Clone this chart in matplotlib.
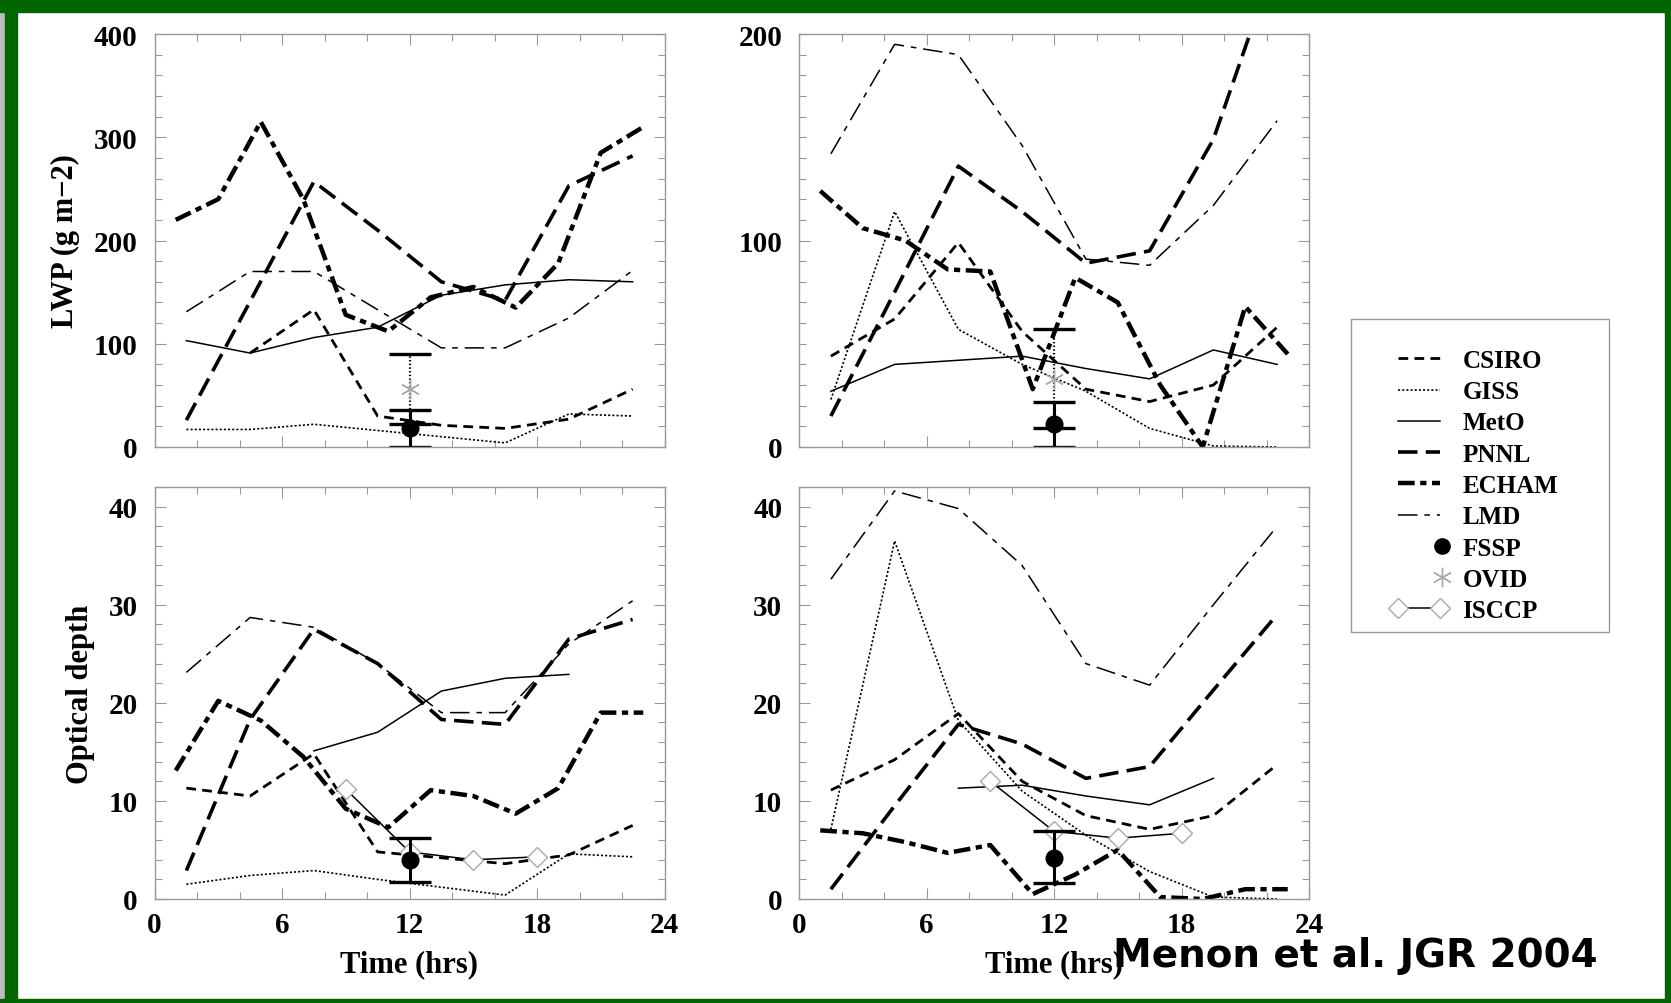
import numpy as np
import matplotlib
matplotlib.use("Agg")
import matplotlib.pyplot as plt
from matplotlib.lines import Line2D
from matplotlib.patches import Rectangle
from matplotlib.ticker import MultipleLocator
from matplotlib.legend_handler import HandlerLine2D

plt.rcParams['font.family'] = 'Liberation Serif'
plt.rcParams['font.weight'] = 'bold'
plt.rcParams['axes.labelweight'] = 'bold'
plt.rcParams['lines.scale_dashes'] = False

nan = np.nan

# model output times (3-hourly, ECHAM 2-hourly) and ISCCP overpasses
t3 = [1.5, 4.5, 7.5, 10.5, 13.5, 16.5, 19.5, 22.5]
t_echam = [1, 3, 5, 7, 9, 11, 13, 15, 17, 19, 21, 23]
t_isccp = [9, 12, 15, 18]
t_obs = 12

# LWP (g m-2), left case
lwp1_csiro = [nan, 91, 133, 30, 21, 18, 27, 56]
lwp1_giss = [17, 17, 22, 16, 10, 4, 32, 30]
lwp1_meto = [103, 91, 106, 116, 147, 157, 162, 160]
lwp1_pnnl = [26, 141, 257, 210, 160, 142, 253, 282]
lwp1_echam = [220, 240, 315, 240, 128, 112, 145, 155, 135, 178, 285, 310]
lwp1_lmd = [131, 170, 170, 133, 96, 96, 125, 171]

# LWP (g m-2), right case
lwp2_csiro = [44, 62, 99, 56, 28, 22, 30, 58]
lwp2_giss = [23, 114, 57, 40, 27, 9, 0.5, 0]
lwp2_meto = [27, 40, 42, 44, 38, 33, 47, 40]
lwp2_pnnl = [15, 75, 136, 114, 89, 95, 149, 238]
lwp2_echam = [124, 106, 100, 86, 85, 28, 82, 70, 30, 0, 68, 45]
lwp2_lmd = [142, 195, 190, 146, 91, 88, 117, 158]

# optical depth, left case
tau1_csiro = [11.3, 10.5, 14.8, 4.8, 4.2, 3.6, 4.5, 7.5]
tau1_giss = [1.5, 2.4, 2.9, 2.0, 1.2, 0.4, 4.6, 4.3]
tau1_meto = [nan, nan, 15.1, 17.0, 21.2, 22.5, 22.9, nan]
tau1_pnnl = [2.9, 18.3, 27.5, 24.0, 18.3, 17.8, 26.5, 28.5]
tau1_echam = [13.1, 20.2, 18.2, 14.5, 9.2, 7.3, 11.1, 10.5, 8.7, 11.3, 19.0, 19.0]
tau1_lmd = [23.1, 28.7, 27.7, 24.0, 19.0, 19.0, 26.0, 30.4]
tau1_isccp = [11.2, 4.8, 4.0, 4.3]

# optical depth, right case
tau2_csiro = [11.1, 14.2, 18.9, 12.0, 8.5, 7.1, 8.5, 13.7]
tau2_giss = [7.1, 36.5, 18.2, 11.0, 6.5, 2.8, 0.2, 0.0]
tau2_meto = [nan, nan, 11.3, 11.6, 10.5, 9.6, 12.3, nan]
tau2_pnnl = [1.0, 9.5, 17.8, 15.8, 12.3, 13.5, 21.3, 29.0]
tau2_echam = [7.0, 6.7, 5.8, 4.7, 5.5, 0.5, 2.5, 5.0, 0.2, 0.0, 1.0, 1.0]
tau2_lmd = [32.6, 41.6, 39.8, 34.0, 24.0, 21.8, 30.0, 38.0]
tau2_isccp = [12.0, 6.9, 6.2, 6.7]

# observations at noon: value, lower, upper
fssp = [18, 11, 4.0, 4.2]
fssp_lo = [0, 0, 1.7, 1.6]
fssp_hi = [36, 22, 6.2, 6.9]
ovid = [56, 33, nan, nan]
ovid_lo = [22, 9, nan, nan]
ovid_hi = [90, 57, nan, nan]

sty = {
    'CSIRO': dict(color='k', lw=2.0, dashes=(7, 4.5)),
    'GISS': dict(color='k', lw=1.2, dashes=(1.5, 1.5)),
    'MetO': dict(color='k', lw=1.1, ls='-'),
    'PNNL': dict(color='k', lw=2.6, dashes=(14, 6)),
    'ECHAM': dict(color='k', lw=3.2, dashes=(12, 4, 4.5, 4)),
    'LMD': dict(color='k', lw=1.1, dashes=(14, 5, 4, 5)),
}
isccp_sty = dict(color='k', lw=1.1, marker='D', ms=10, mfc='white', mec='#aaaaaa', mew=1.0)
star = (6, 2, 0)

W, H = 1671, 1004
fig = plt.figure(figsize=(W / 100, H / 100), dpi=100, facecolor='white')

# green frame with a grey edge on the left
green = '#006600'
fig.patches.append(Rectangle((0, 0), 5 / W, 1, transform=fig.transFigure, color='#bdbdbd', zorder=0))
for x0, y0, w, h in [(5, 0, 12, H), (0, 0, W, 13), (1665, 0, 6, H), (0, 1000, W, 4)]:
    fig.patches.append(Rectangle((x0 / W, 1 - (y0 + h) / H), w / W, h / H,
                                 transform=fig.transFigure, color=green, zorder=0))


def panel(rect, k, models, ymax, major, minor, isccp=None, ylabel=None, xlabels=False):
    ax = fig.add_axes(rect)
    csiro, giss, meto, pnnl, echam, lmd = models
    ax.plot(t3, csiro, **sty['CSIRO'])
    ax.plot(t3, giss, **sty['GISS'])
    ax.plot(t3, meto, **sty['MetO'])
    ax.plot(t3, pnnl, **sty['PNNL'])
    ax.plot(t_echam, echam, **sty['ECHAM'])
    ax.plot(t3, lmd, **sty['LMD'])
    if isccp is not None:
        ax.plot(t_isccp, isccp, **isccp_sty)
    if not np.isnan(ovid[k]):
        eb = ax.errorbar(t_obs, ovid[k], yerr=[[ovid[k] - ovid_lo[k]], [ovid_hi[k] - ovid[k]]],
                         fmt='none', ecolor='k', elinewidth=1.6, capsize=15, capthick=2.4)
        eb[2][0].set_linestyle(':')
        ax.plot(t_obs, ovid[k], marker=star, ms=14, color='#aaaaaa', mew=1.0, ls='none')
    ax.errorbar(t_obs, fssp[k], yerr=[[fssp[k] - fssp_lo[k]], [fssp_hi[k] - fssp[k]]],
                fmt='o', color='k', ms=12, elinewidth=2.2, capsize=15, capthick=2.4)
    ax.set_xlim(0, 24)
    ax.set_ylim(0, ymax)
    ax.xaxis.set_major_locator(MultipleLocator(6))
    ax.xaxis.set_minor_locator(MultipleLocator(2))
    ax.yaxis.set_major_locator(MultipleLocator(major))
    ax.yaxis.set_minor_locator(MultipleLocator(minor))
    ax.tick_params(which='both', direction='in', top=True, right=True, color='#999999',
                   labelsize=21, width=0.8)
    ax.tick_params(which='major', length=8)
    ax.tick_params(which='minor', length=5)
    ax.tick_params(axis='y', pad=12)
    ax.tick_params(axis='x', pad=9, labelbottom=xlabels)
    for s in ax.spines.values():
        s.set_color('#999999')
        s.set_linewidth(1.0)
    if ylabel:
        ax.set_ylabel(ylabel, fontsize=22, fontweight='bold', labelpad=10)
    if xlabels:
        ax.set_xlabel('Time (hrs)', fontsize=22, fontweight='bold', labelpad=8)
    return ax


left1, left2, aw = 154.5 / W, 799 / W, 510 / W
top_b, bot_b, ah_top, ah_bot = 1 - 448 / H, 1 - 900 / H, 413 / H, 412 / H

panel([left1, top_b, aw, ah_top], 0,
      [lwp1_csiro, lwp1_giss, lwp1_meto, lwp1_pnnl, lwp1_echam, lwp1_lmd],
      400, 100, 20, ylabel='LWP (g m\u22122)')
panel([left2, top_b, aw, ah_top], 1,
      [lwp2_csiro, lwp2_giss, lwp2_meto, lwp2_pnnl, lwp2_echam, lwp2_lmd],
      200, 100, 10)
panel([left1, bot_b, aw, ah_bot], 2,
      [tau1_csiro, tau1_giss, tau1_meto, tau1_pnnl, tau1_echam, tau1_lmd],
      42, 10, 2, isccp=tau1_isccp, ylabel='Optical depth', xlabels=True)
panel([left2, bot_b, aw, ah_bot], 3,
      [tau2_csiro, tau2_giss, tau2_meto, tau2_pnnl, tau2_echam, tau2_lmd],
      42, 10, 2, isccp=tau2_isccp, xlabels=True)

# legend in its own grey box on the right
fig.patches.append(Rectangle((1351 / W, 1 - 633 / H), 258 / W, 313 / H, transform=fig.transFigure,
                             fill=False, ec='#999999', lw=1.0))


class EndMarker(HandlerLine2D):
    def get_xdata(self, legend, xdescent, ydescent, width, height, fontsize):
        x = -xdescent + width - 4
        return [x - 1, x + 1], [x]


handles = [Line2D([], [], **sty[n]) for n in ['CSIRO', 'GISS', 'MetO', 'PNNL', 'ECHAM', 'LMD']]
h_fssp = Line2D([], [], ls='none', marker='o', color='k', ms=11)
h_ovid = Line2D([], [], ls='none', marker=star, ms=14, color='#aaaaaa', mew=1.0)
h_isccp = Line2D([], [], **isccp_sty)
handles += [h_fssp, h_ovid, h_isccp]
labels = ['CSIRO', 'GISS', 'MetO', 'PNNL', 'ECHAM', 'LMD', 'FSSP', 'OVID', 'ISCCP']
fig.legend(handles, labels, loc='upper left', bbox_to_anchor=(1390 / W, 1 - 350 / H),
           frameon=False, fontsize=18, numpoints=2, handlelength=2.3, handletextpad=0.6,
           labelspacing=0.33, borderpad=0, borderaxespad=0,
           handler_map={h_fssp: EndMarker(numpoints=1), h_ovid: EndMarker(numpoints=1)})

fig.text(1355 / W, 1 - 956 / H, 'Menon et al. JGR 2004', family='DejaVu Sans', weight='bold',
         fontsize=28, ha='center', va='center', color='k')

fig.savefig('out.png', dpi=100, facecolor=fig.get_facecolor())
